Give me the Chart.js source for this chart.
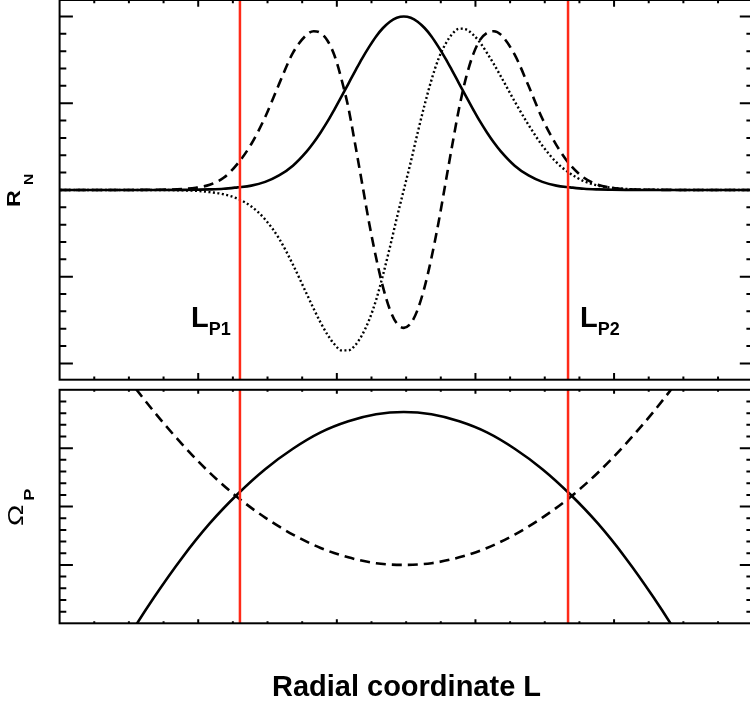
<!DOCTYPE html>
<html>
<head>
<meta charset="utf-8">
<script src="https://cdn.jsdelivr.net/npm/chart.js@4.4.1/dist/chart.umd.min.js"></script>
<style>
html, body { margin: 0; padding: 0; overflow: hidden; background: #fff; }
#wrap { position: relative; width: 750px; height: 702px; overflow: hidden; }
canvas { position: absolute; left: 0; }
.lbl { position: absolute; font-family: "Liberation Sans", Arial, sans-serif; font-weight: bold;
       line-height: 1; white-space: nowrap; color: #000; }
.sub { position: relative; }
.rot { transform-origin: 0 0; transform: rotate(-90deg) scaleX(1.3); }
</style>
</head>
<body>
<div id="wrap">
  <canvas id="top" width="760" height="385" style="top:0"></canvas>
  <canvas id="bot" width="760" height="317" style="top:385px"></canvas>

  <div class="lbl rot" style="left:5px; top:207px; font-size:18px">R<span class="sub" style="font-size:12px; top:13px; margin-left:4px">N</span></div>
  <div class="lbl rot" style="left:4.5px; top:526px; font-size:22px"><span style="font-weight:normal">&Omega;</span><span class="sub" style="font-size:14px; top:10.7px; margin-left:3px">P</span></div>

  <div class="lbl" style="left:191px; top:303px; font-size:29px">L<span class="sub" style="font-size:18px; top:8px">P1</span></div>
  <div class="lbl" style="left:580px; top:303px; font-size:29px">L<span class="sub" style="font-size:18px; top:8px">P2</span></div>

  <div class="lbl" style="left:406.5px; top:671.5px; font-size:29px; transform:translateX(-50%)">Radial coordinate L</div>
</div>
<script>
// radial positions, centred on the peak (major tick spacing = 1)
var topL = [-2.48, -2.0, -1.8, -1.6, -1.5, -1.4, -1.3, -1.2, -1.1, -1.0, -0.9, -0.8, -0.7, -0.65,
            -0.6, -0.55, -0.5, -0.45, -0.4, -0.35, -0.3, -0.25, -0.2, -0.15, -0.1, -0.05, 0,
            0.05, 0.1, 0.15, 0.2, 0.25, 0.3, 0.35, 0.4, 0.45, 0.5, 0.55, 0.6,
            0.65, 0.7, 0.8, 0.9, 1.0, 1.1, 1.2, 1.3, 1.4, 1.5, 1.6, 1.8, 2.0, 2.52];

// R_N modes
var rSolid = [0, 0, 0, 0.001, 0.003, 0.006, 0.013, 0.03, 0.05, 0.093, 0.167, 0.28, 0.445, 0.547,
              0.663, 0.79, 0.93, 1.075, 1.224, 1.373, 1.518, 1.65, 1.77, 1.867, 1.94, 1.985, 2.0,
              1.985, 1.94, 1.867, 1.77, 1.65, 1.518, 1.373, 1.224, 1.075, 0.93, 0.79, 0.663,
              0.547, 0.445, 0.28, 0.167, 0.093, 0.05, 0.03, 0.013, 0.006, 0.003, 0.001, 0, 0, 0];
var rDashed = [0, 0, 0.002, 0.01, 0.025, 0.06, 0.14, 0.30, 0.53, 0.84, 1.22, 1.58, 1.79, 1.83,
               1.81, 1.72, 1.55, 1.28, 0.95, 0.52, 0.07, -0.38, -0.78, -1.12, -1.38, -1.54, -1.59,
               -1.54, -1.38, -1.12, -0.78, -0.38, 0.07, 0.52, 0.95, 1.30, 1.56, 1.73, 1.81,
               1.83, 1.79, 1.56, 1.20, 0.82, 0.52, 0.29, 0.14, 0.06, 0.025, 0.01, 0.002, 0, 0];
var rDotted = [0, 0, 0, -0.005, -0.01, -0.025, -0.05, -0.10, -0.19, -0.34, -0.56, -0.86, -1.20, -1.37,
               -1.53, -1.67, -1.78, -1.85, -1.85, -1.79, -1.67, -1.50, -1.27, -0.98, -0.66, -0.32, 0,
               0.32, 0.66, 0.98, 1.27, 1.51, 1.68, 1.80, 1.86, 1.85, 1.79, 1.70, 1.58,
               1.45, 1.31, 1.02, 0.75, 0.51, 0.32, 0.19, 0.10, 0.05, 0.025, 0.012, 0.003, 0, 0];

// Omega_P curves
var botL = [-2.2, -2.0, -1.8, -1.6, -1.4, -1.2, -1.0, -0.8, -0.6, -0.4, -0.2, 0,
            0.2, 0.4, 0.6, 0.8, 1.0, 1.2, 1.4, 1.6, 1.8, 2.0, 2.2];
var omSolid = [-1.11, -0.29, 0.45, 1.12, 1.71, 2.21, 2.64, 2.99, 3.27, 3.46, 3.58, 3.62,
               3.58, 3.46, 3.27, 2.99, 2.64, 2.21, 1.71, 1.12, 0.45, -0.29, -1.11];
var omDashed = [4.91, 4.23, 3.62, 3.07, 2.58, 2.16, 1.81, 1.52, 1.29, 1.13, 1.03, 1.0,
                1.03, 1.13, 1.29, 1.52, 1.81, 2.16, 2.58, 3.07, 3.62, 4.23, 4.91];

// L_P1, L_P2
var LP = [-1.182, 1.185];

// tick marks
var xMajor = [-1.483, -0.483, 0.517, 1.517];
var xMinor = [-2.233, -1.983, -1.733, -1.233, -0.983, -0.733, -0.233, 0.017, 0.267,
              0.767, 1.017, 1.267, 1.767, 2.017, 2.267];
var yTopMajor = [-2, -1, 0, 1, 2];
var yTopMinor = [-1.8, -1.6, -1.4, -1.2, -0.8, -0.6, -0.4, -0.2, 0.2, 0.4, 0.6, 0.8,
                 1.2, 1.4, 1.6, 1.8];
var yBotMajor = [1, 2, 3];
var yBotMinor = [0.2, 0.4, 0.6, 0.8, 1.2, 1.4, 1.6, 1.8, 2.2, 2.4, 2.6, 2.8, 3.2, 3.4, 3.6, 3.8];

var red = '#ff2a18';

function pts(xs, ys) {
    return xs.map(function (x, i) { return { x: x, y: ys[i] }; });
}

function curve(xs, ys, dash, width) {
    return {
        data: pts(xs, ys),
        borderColor: '#000',
        borderWidth: width || 2.6,
        borderDash: dash || [],
        cubicInterpolationMode: 'monotone',
        fill: false
    };
}

function marker(x, y0, y1) {
    return {
        data: [{ x: x, y: y0 }, { x: x, y: y1 }],
        borderColor: red,
        borderWidth: 2.5,
        tension: 0,
        fill: false
    };
}

// box round the plot with inward ticks on all four sides
function frame(t) {
    return {
        id: 'frame',
        afterDatasetsDraw: function (chart) {
            var ctx = chart.ctx, a = chart.chartArea;
            var x = chart.scales.x, y = chart.scales.y;
            ctx.save();
            ctx.strokeStyle = '#000';
            ctx.lineWidth = 2;
            ctx.strokeRect(a.left, a.top, a.right - a.left, a.bottom - a.top);
            ctx.beginPath();
            function xt(vals, len) {
                vals.forEach(function (v) {
                    var p = x.getPixelForValue(v);
                    ctx.moveTo(p, a.bottom); ctx.lineTo(p, a.bottom - len);
                    ctx.moveTo(p, a.top); ctx.lineTo(p, a.top + len);
                });
            }
            function yt(vals, len) {
                vals.forEach(function (v) {
                    var p = y.getPixelForValue(v);
                    ctx.moveTo(a.left, p); ctx.lineTo(a.left + len, p);
                    ctx.moveTo(a.right, p); ctx.lineTo(a.right - len, p);
                });
            }
            xt(xMajor, t.xMaj); xt(xMinor, t.xMin);
            yt(t.yMajor, 13.3); yt(t.yMinor, 6.7);
            ctx.stroke();
            ctx.restore();
        }
    };
}

function panel(id, datasets, yMin, yMax, pad, ticks) {
    return new Chart(document.getElementById(id), {
        type: 'line',
        data: { datasets: datasets },
        options: {
            responsive: false,
            animation: false,
            layout: { padding: pad },
            plugins: { legend: { display: false }, tooltip: { enabled: false } },
            elements: { point: { radius: 0 } },
            scales: {
                x: { type: 'linear', min: -2.483, max: 2.52, display: false },
                y: { type: 'linear', min: yMin, max: yMax, display: false }
            }
        },
        plugins: [frame(ticks)]
    });
}

panel('top', [
    marker(LP[0], -2.188, 2.19),
    marker(LP[1], -2.188, 2.19),
    curve(topL, rSolid),
    curve(topL, rDashed, [10, 6]),
    curve(topL, rDotted, [2, 2.5], 2.4)
], -2.188, 2.19, { left: 59.6, right: 6.9, top: 0, bottom: 5.3 },
   { xMaj: 6.7, xMin: 3.3, yMajor: yTopMajor, yMinor: yTopMinor });

panel('bot', [
    marker(LP[0], 0, 4),
    marker(LP[1], 0, 4),
    curve(botL, omSolid),
    curve(botL, omDashed, [10, 6])
], 0, 4, { left: 59.6, right: 6.9, top: 4.8, bottom: 78.7 },
   { xMaj: 4, xMin: 2, yMajor: yBotMajor, yMinor: yBotMinor });
</script>
</body>
</html>
